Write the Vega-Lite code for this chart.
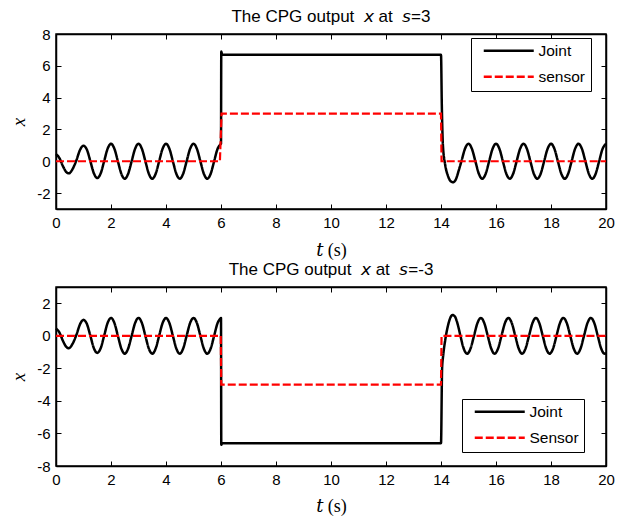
{
  "$schema": "https://vega.github.io/schema/vega-lite/v6.json",
  "background": "white",
  "padding": {"left": 8, "top": 7, "right": 10, "bottom": 2},
  "spacing": -1,
  "config": {
    "view": {"stroke": "black", "strokeWidth": 1.5},
    "font": "Liberation Sans",
    "title": {"font": "Liberation Sans", "fontSize": 17, "fontWeight": "normal", "color": "black", "anchor": "middle"},
    "axis": {
      "grid": false, "labelFlush": false,
      "domainColor": "black", "domainWidth": 1.5,
      "tickColor": "black", "tickWidth": 1, "tickSize": -5,
      "labelFont": "Liberation Sans", "labelFontSize": 15, "labelColor": "black", "labelPadding": 11,
      "titleFont": "Liberation Serif, DejaVu Serif", "titleFontWeight": "normal", "titleColor": "black", "titleFontSize": 18,
      "labelExpr": "replace(datum.label, '−', '-')"
    },
    "legend": {
      "fillColor": "white", "strokeColor": "black", "padding": 5,
      "labelFont": "Liberation Sans", "labelFontSize": 15.5, "labelColor": "black", "labelOffset": 22,
      "symbolType": "M-5,0H5", "symbolSize": 100, "symbolOffset": 25, "symbolStrokeWidth": 2.5, "rowPadding": 9
    }
  },
  "datasets": {
    "top": [
      {"t": 0, "x": 0.45, "series": "Joint"}, {"t": 0.125, "x": 0.2, "series": "Joint"}, {"t": 0.25, "x": -0.3, "series": "Joint"}, {"t": 0.375, "x": -0.68, "series": "Joint"}, {"t": 0.47, "x": -0.76, "series": "Joint"}, {"t": 0.6, "x": -0.5, "series": "Joint"}, {"t": 0.75, "x": 0.1, "series": "Joint"}, {"t": 0.875, "x": 0.72, "series": "Joint"}, {"t": 1.0, "x": 0.98, "series": "Joint"},
      {"t": 1.125, "x": 0.72, "series": "Joint"}, {"t": 1.25, "x": 0, "series": "Joint"}, {"t": 1.375, "x": -0.75, "series": "Joint"}, {"t": 1.5, "x": -1.05, "series": "Joint"}, {"t": 1.625, "x": -0.76, "series": "Joint"}, {"t": 1.75, "x": 0, "series": "Joint"}, {"t": 1.875, "x": 0.78, "series": "Joint"}, {"t": 2.0, "x": 1.1, "series": "Joint"},
      {"t": 2.125, "x": 0.78, "series": "Joint"}, {"t": 2.25, "x": 0, "series": "Joint"}, {"t": 2.375, "x": -0.78, "series": "Joint"}, {"t": 2.5, "x": -1.1, "series": "Joint"}, {"t": 2.625, "x": -0.78, "series": "Joint"}, {"t": 2.75, "x": 0, "series": "Joint"}, {"t": 2.875, "x": 0.78, "series": "Joint"}, {"t": 3.0, "x": 1.1, "series": "Joint"},
      {"t": 3.125, "x": 0.78, "series": "Joint"}, {"t": 3.25, "x": 0, "series": "Joint"}, {"t": 3.375, "x": -0.78, "series": "Joint"}, {"t": 3.5, "x": -1.1, "series": "Joint"}, {"t": 3.625, "x": -0.78, "series": "Joint"}, {"t": 3.75, "x": 0, "series": "Joint"}, {"t": 3.875, "x": 0.78, "series": "Joint"}, {"t": 4.0, "x": 1.1, "series": "Joint"},
      {"t": 4.125, "x": 0.78, "series": "Joint"}, {"t": 4.25, "x": 0, "series": "Joint"}, {"t": 4.375, "x": -0.78, "series": "Joint"}, {"t": 4.5, "x": -1.1, "series": "Joint"}, {"t": 4.625, "x": -0.78, "series": "Joint"}, {"t": 4.75, "x": 0, "series": "Joint"}, {"t": 4.875, "x": 0.78, "series": "Joint"}, {"t": 5.0, "x": 1.1, "series": "Joint"},
      {"t": 5.125, "x": 0.78, "series": "Joint"}, {"t": 5.25, "x": 0, "series": "Joint"}, {"t": 5.375, "x": -0.78, "series": "Joint"}, {"t": 5.5, "x": -1.1, "series": "Joint"}, {"t": 5.625, "x": -0.78, "series": "Joint"}, {"t": 5.75, "x": 0, "series": "Joint"}, {"t": 5.875, "x": 0.78, "series": "Joint"}, {"t": 5.97, "x": 1.05, "series": "Joint"}, {"t": 6.0, "x": 1.1, "series": "Joint"},
      {"t": 6.01, "x": 6.9, "series": "Joint"}, {"t": 6.04, "x": 6.7, "series": "Joint"}, {"t": 14.0, "x": 6.7, "series": "Joint"},
      {"t": 14.03, "x": 3.5, "series": "Joint"}, {"t": 14.07, "x": 1.0, "series": "Joint"}, {"t": 14.15, "x": -0.2, "series": "Joint"}, {"t": 14.25, "x": -0.9, "series": "Joint"}, {"t": 14.35, "x": -1.25, "series": "Joint"}, {"t": 14.45, "x": -1.32, "series": "Joint"}, {"t": 14.55, "x": -1.1, "series": "Joint"}, {"t": 14.65, "x": -0.55, "series": "Joint"}, {"t": 14.75, "x": 0.05, "series": "Joint"}, {"t": 14.875, "x": 0.8, "series": "Joint"}, {"t": 15.0, "x": 1.1, "series": "Joint"},
      {"t": 15.125, "x": 0.78, "series": "Joint"}, {"t": 15.25, "x": 0, "series": "Joint"}, {"t": 15.375, "x": -0.78, "series": "Joint"}, {"t": 15.5, "x": -1.1, "series": "Joint"}, {"t": 15.625, "x": -0.78, "series": "Joint"}, {"t": 15.75, "x": 0, "series": "Joint"}, {"t": 15.875, "x": 0.78, "series": "Joint"}, {"t": 16.0, "x": 1.1, "series": "Joint"},
      {"t": 16.125, "x": 0.78, "series": "Joint"}, {"t": 16.25, "x": 0, "series": "Joint"}, {"t": 16.375, "x": -0.78, "series": "Joint"}, {"t": 16.5, "x": -1.1, "series": "Joint"}, {"t": 16.625, "x": -0.78, "series": "Joint"}, {"t": 16.75, "x": 0, "series": "Joint"}, {"t": 16.875, "x": 0.78, "series": "Joint"}, {"t": 17.0, "x": 1.1, "series": "Joint"},
      {"t": 17.125, "x": 0.78, "series": "Joint"}, {"t": 17.25, "x": 0, "series": "Joint"}, {"t": 17.375, "x": -0.78, "series": "Joint"}, {"t": 17.5, "x": -1.1, "series": "Joint"}, {"t": 17.625, "x": -0.78, "series": "Joint"}, {"t": 17.75, "x": 0, "series": "Joint"}, {"t": 17.875, "x": 0.78, "series": "Joint"}, {"t": 18.0, "x": 1.1, "series": "Joint"},
      {"t": 18.125, "x": 0.78, "series": "Joint"}, {"t": 18.25, "x": 0, "series": "Joint"}, {"t": 18.375, "x": -0.78, "series": "Joint"}, {"t": 18.5, "x": -1.1, "series": "Joint"}, {"t": 18.625, "x": -0.78, "series": "Joint"}, {"t": 18.75, "x": 0, "series": "Joint"}, {"t": 18.875, "x": 0.78, "series": "Joint"}, {"t": 19.0, "x": 1.1, "series": "Joint"},
      {"t": 19.125, "x": 0.78, "series": "Joint"}, {"t": 19.25, "x": 0, "series": "Joint"}, {"t": 19.375, "x": -0.78, "series": "Joint"}, {"t": 19.5, "x": -1.1, "series": "Joint"}, {"t": 19.625, "x": -0.78, "series": "Joint"}, {"t": 19.75, "x": 0, "series": "Joint"}, {"t": 19.875, "x": 0.78, "series": "Joint"}, {"t": 20.0, "x": 1.1, "series": "Joint"},
      {"t": 0, "x": 0, "series": "sensor"}, {"t": 5.96, "x": 0, "series": "sensor"}, {"t": 6.02, "x": 3, "series": "sensor"}, {"t": 14.0, "x": 3, "series": "sensor"}, {"t": 14.02, "x": 0, "series": "sensor"}, {"t": 20, "x": 0, "series": "sensor"}
    ],
    "bot": [
      {"t": 0, "x": 0.45, "series": "Joint"}, {"t": 0.125, "x": 0.2, "series": "Joint"}, {"t": 0.25, "x": -0.3, "series": "Joint"}, {"t": 0.375, "x": -0.68, "series": "Joint"}, {"t": 0.47, "x": -0.76, "series": "Joint"}, {"t": 0.6, "x": -0.5, "series": "Joint"}, {"t": 0.75, "x": 0.1, "series": "Joint"}, {"t": 0.875, "x": 0.72, "series": "Joint"}, {"t": 1.0, "x": 0.98, "series": "Joint"},
      {"t": 1.125, "x": 0.72, "series": "Joint"}, {"t": 1.25, "x": 0, "series": "Joint"}, {"t": 1.375, "x": -0.75, "series": "Joint"}, {"t": 1.5, "x": -1.05, "series": "Joint"}, {"t": 1.625, "x": -0.76, "series": "Joint"}, {"t": 1.75, "x": 0, "series": "Joint"}, {"t": 1.875, "x": 0.78, "series": "Joint"}, {"t": 2.0, "x": 1.1, "series": "Joint"},
      {"t": 2.125, "x": 0.78, "series": "Joint"}, {"t": 2.25, "x": 0, "series": "Joint"}, {"t": 2.375, "x": -0.78, "series": "Joint"}, {"t": 2.5, "x": -1.1, "series": "Joint"}, {"t": 2.625, "x": -0.78, "series": "Joint"}, {"t": 2.75, "x": 0, "series": "Joint"}, {"t": 2.875, "x": 0.78, "series": "Joint"}, {"t": 3.0, "x": 1.1, "series": "Joint"},
      {"t": 3.125, "x": 0.78, "series": "Joint"}, {"t": 3.25, "x": 0, "series": "Joint"}, {"t": 3.375, "x": -0.78, "series": "Joint"}, {"t": 3.5, "x": -1.1, "series": "Joint"}, {"t": 3.625, "x": -0.78, "series": "Joint"}, {"t": 3.75, "x": 0, "series": "Joint"}, {"t": 3.875, "x": 0.78, "series": "Joint"}, {"t": 4.0, "x": 1.1, "series": "Joint"},
      {"t": 4.125, "x": 0.78, "series": "Joint"}, {"t": 4.25, "x": 0, "series": "Joint"}, {"t": 4.375, "x": -0.78, "series": "Joint"}, {"t": 4.5, "x": -1.1, "series": "Joint"}, {"t": 4.625, "x": -0.78, "series": "Joint"}, {"t": 4.75, "x": 0, "series": "Joint"}, {"t": 4.875, "x": 0.78, "series": "Joint"}, {"t": 5.0, "x": 1.1, "series": "Joint"},
      {"t": 5.125, "x": 0.78, "series": "Joint"}, {"t": 5.25, "x": 0, "series": "Joint"}, {"t": 5.375, "x": -0.78, "series": "Joint"}, {"t": 5.5, "x": -1.1, "series": "Joint"}, {"t": 5.625, "x": -0.78, "series": "Joint"}, {"t": 5.75, "x": 0, "series": "Joint"}, {"t": 5.875, "x": 0.78, "series": "Joint"}, {"t": 5.97, "x": 1.05, "series": "Joint"}, {"t": 6.0, "x": 1.1, "series": "Joint"},
      {"t": 6.01, "x": -6.7, "series": "Joint"}, {"t": 6.04, "x": -6.6, "series": "Joint"}, {"t": 14.0, "x": -6.6, "series": "Joint"},
      {"t": 14.04, "x": -2.0, "series": "Joint"}, {"t": 14.08, "x": -1.2, "series": "Joint"}, {"t": 14.15, "x": -0.3, "series": "Joint"}, {"t": 14.25, "x": 0.6, "series": "Joint"}, {"t": 14.35, "x": 1.15, "series": "Joint"}, {"t": 14.42, "x": 1.28, "series": "Joint"}, {"t": 14.5, "x": 1.2, "series": "Joint"}, {"t": 14.6, "x": 0.75, "series": "Joint"}, {"t": 14.7, "x": 0.05, "series": "Joint"}, {"t": 14.8, "x": -0.65, "series": "Joint"}, {"t": 14.95, "x": -1.1, "series": "Joint"},
      {"t": 15.075, "x": -0.78, "series": "Joint"}, {"t": 15.2, "x": 0, "series": "Joint"}, {"t": 15.325, "x": 0.78, "series": "Joint"}, {"t": 15.45, "x": 1.1, "series": "Joint"}, {"t": 15.575, "x": 0.78, "series": "Joint"}, {"t": 15.7, "x": 0, "series": "Joint"}, {"t": 15.825, "x": -0.78, "series": "Joint"}, {"t": 15.95, "x": -1.1, "series": "Joint"},
      {"t": 16.075, "x": -0.78, "series": "Joint"}, {"t": 16.2, "x": 0, "series": "Joint"}, {"t": 16.325, "x": 0.78, "series": "Joint"}, {"t": 16.45, "x": 1.1, "series": "Joint"}, {"t": 16.575, "x": 0.78, "series": "Joint"}, {"t": 16.7, "x": 0, "series": "Joint"}, {"t": 16.825, "x": -0.78, "series": "Joint"}, {"t": 16.95, "x": -1.1, "series": "Joint"},
      {"t": 17.075, "x": -0.78, "series": "Joint"}, {"t": 17.2, "x": 0, "series": "Joint"}, {"t": 17.325, "x": 0.78, "series": "Joint"}, {"t": 17.45, "x": 1.1, "series": "Joint"}, {"t": 17.575, "x": 0.78, "series": "Joint"}, {"t": 17.7, "x": 0, "series": "Joint"}, {"t": 17.825, "x": -0.78, "series": "Joint"}, {"t": 17.95, "x": -1.1, "series": "Joint"},
      {"t": 18.075, "x": -0.78, "series": "Joint"}, {"t": 18.2, "x": 0, "series": "Joint"}, {"t": 18.325, "x": 0.78, "series": "Joint"}, {"t": 18.45, "x": 1.1, "series": "Joint"}, {"t": 18.575, "x": 0.78, "series": "Joint"}, {"t": 18.7, "x": 0, "series": "Joint"}, {"t": 18.825, "x": -0.78, "series": "Joint"}, {"t": 18.95, "x": -1.1, "series": "Joint"},
      {"t": 19.075, "x": -0.78, "series": "Joint"}, {"t": 19.2, "x": 0, "series": "Joint"}, {"t": 19.325, "x": 0.78, "series": "Joint"}, {"t": 19.45, "x": 1.1, "series": "Joint"}, {"t": 19.575, "x": 0.78, "series": "Joint"}, {"t": 19.7, "x": 0, "series": "Joint"}, {"t": 19.825, "x": -0.78, "series": "Joint"}, {"t": 19.95, "x": -1.1, "series": "Joint"}, {"t": 20.0, "x": -1.05, "series": "Joint"},
      {"t": 0, "x": 0, "series": "Sensor"}, {"t": 5.99, "x": 0, "series": "Sensor"}, {"t": 6.01, "x": -3, "series": "Sensor"}, {"t": 14.0, "x": -3, "series": "Sensor"}, {"t": 14.02, "x": 0, "series": "Sensor"}, {"t": 20, "x": 0, "series": "Sensor"}
    ]
  },
  "vconcat": [
    {
      "width": 550, "height": 175,
      "title": {"text": "The CPG output\u00a0 𝘹 at\u00a0 𝘴=3", "frame": "group", "baseline": "alphabetic", "offset": -12},
      "data": {"name": "top"},
      "layer": [
        {
          "transform": [{"filter": "datum.series === 'Joint'"}],
          "mark": {"type": "line", "strokeWidth": 2.5, "interpolate": "monotone"},
          "encoding": {
            "x": {"field": "t", "type": "quantitative", "scale": {"domain": [0, 20], "nice": false}, "axis": {"orient": "bottom", "values": [0, 2, 4, 6, 8, 10, 12, 14, 16, 18, 20], "title": "𝑡 (s)", "titlePadding": 11}},
            "y": {"field": "x", "type": "quantitative", "scale": {"domain": [-3, 8], "nice": false, "zero": false}, "axis": {"orient": "left", "values": [-2, 0, 2, 4, 6, 8], "title": "x", "titleFontStyle": "italic", "titleFontSize": 19, "titlePadding": 8}},
            "color": {"field": "series", "type": "nominal", "scale": {"domain": ["Joint", "sensor"], "range": ["black", "red"]}, "legend": {"title": null, "orient": "none", "legendX": 415, "legendY": 4}},
            "strokeDash": {"field": "series", "type": "nominal", "scale": {"domain": ["Joint", "sensor"], "range": [[1, 0], [8, 3]]}, "legend": {"title": null, "orient": "none", "legendX": 415, "legendY": 4}}
          }
        },
        {
          "transform": [{"filter": "datum.series === 'sensor'"}],
          "mark": {"type": "line", "strokeWidth": 2.2},
          "encoding": {
            "x": {"field": "t", "type": "quantitative", "axis": {"orient": "top", "values": [0, 2, 4, 6, 8, 10, 12, 14, 16, 18, 20], "labels": false, "title": null}},
            "y": {"field": "x", "type": "quantitative", "axis": {"orient": "right", "values": [-2, 0, 2, 4, 6, 8], "labels": false, "title": null}},
            "color": {"field": "series", "type": "nominal"},
            "strokeDash": {"field": "series", "type": "nominal"}
          }
        }
      ],
      "resolve": {"axis": {"x": "independent", "y": "independent"}}
    },
    {
      "width": 550, "height": 179,
      "title": {"text": "The CPG output\u00a0 𝘹 at\u00a0 𝘴=-3", "frame": "group", "baseline": "alphabetic", "offset": -5},
      "data": {"name": "bot"},
      "layer": [
        {
          "transform": [{"filter": "datum.series === 'Joint'"}],
          "mark": {"type": "line", "strokeWidth": 2.5, "interpolate": "monotone"},
          "encoding": {
            "x": {"field": "t", "type": "quantitative", "scale": {"domain": [0, 20], "nice": false}, "axis": {"orient": "bottom", "values": [0, 2, 4, 6, 8, 10, 12, 14, 16, 18, 20], "title": "𝑡 (s)", "titlePadding": 10}},
            "y": {"field": "x", "type": "quantitative", "scale": {"domain": [-8, 3], "nice": false, "zero": false}, "axis": {"orient": "left", "values": [-8, -6, -4, -2, 0, 2], "title": "x", "titleFontStyle": "italic", "titleFontSize": 19, "titlePadding": 8}},
            "color": {"field": "series", "type": "nominal", "scale": {"domain": ["Joint", "Sensor"], "range": ["black", "red"]}, "legend": {"title": null, "orient": "none", "legendX": 406, "legendY": 112}},
            "strokeDash": {"field": "series", "type": "nominal", "scale": {"domain": ["Joint", "Sensor"], "range": [[1, 0], [8, 3]]}, "legend": {"title": null, "orient": "none", "legendX": 406, "legendY": 112}}
          }
        },
        {
          "transform": [{"filter": "datum.series === 'Sensor'"}],
          "mark": {"type": "line", "strokeWidth": 2.2},
          "encoding": {
            "x": {"field": "t", "type": "quantitative", "axis": {"orient": "top", "values": [0, 2, 4, 6, 8, 10, 12, 14, 16, 18, 20], "labels": false, "title": null}},
            "y": {"field": "x", "type": "quantitative", "axis": {"orient": "right", "values": [-8, -6, -4, -2, 0, 2], "labels": false, "title": null}},
            "color": {"field": "series", "type": "nominal"},
            "strokeDash": {"field": "series", "type": "nominal"}
          }
        }
      ],
      "resolve": {"axis": {"x": "independent", "y": "independent"}}
    }
  ],
  "resolve": {"scale": {"color": "independent", "strokeDash": "independent"}, "legend": {"color": "independent", "strokeDash": "independent"}}
}
